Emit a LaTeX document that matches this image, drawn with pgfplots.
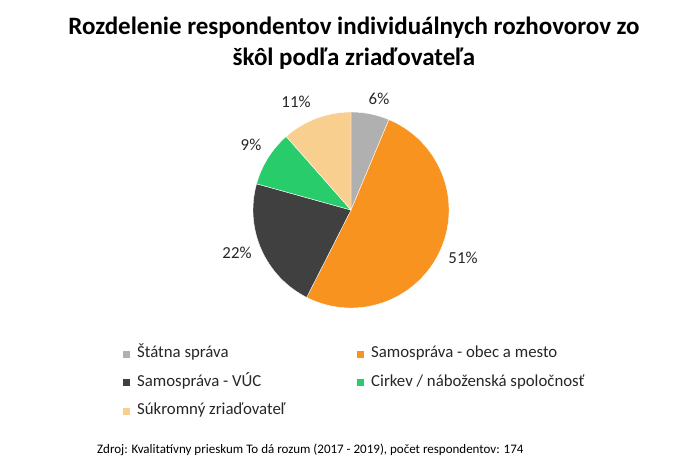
\documentclass[border=0pt]{standalone}
\usepackage{pgfplots}
\pgfplotsset{compat=1.18}
\usepackage{fontspec}
\setmainfont{Carlito}
\definecolor{cgray}{HTML}{B0B0B0}
\definecolor{corange}{HTML}{F7931E}
\definecolor{cdark}{HTML}{404040}
\definecolor{cgreen}{HTML}{28CC6B}
\definecolor{cpeach}{HTML}{F9CF8F}
\begin{document}
\begin{tikzpicture}
\begin{axis}[x=1bp, y=-1bp, xmin=0, xmax=691, ymin=0, ymax=475,
  hide axis, clip=false, anchor=origin, at={(0,0)}]
\path (axis cs:0,0) (axis cs:691,475);
% slices: counts 11, 89, 38, 16, 20 of 174, clockwise from 12 o'clock (2.068966 deg per respondent)
\def\R{98bp}
\def\D{2.068966}
\fill[cgray,draw=white,line width=0.4bp] (axis cs:351,210) -- ++(90:\R) arc[start angle=90, end angle={90-\D*11}, radius=\R] -- cycle;
\fill[corange,draw=white,line width=0.4bp] (axis cs:351,210) -- ++({90-\D*11}:\R) arc[start angle={90-\D*11}, end angle={90-\D*100}, radius=\R] -- cycle;
\fill[cdark,draw=white,line width=0.4bp] (axis cs:351,210) -- ++({90-\D*100}:\R) arc[start angle={90-\D*100}, end angle={90-\D*138}, radius=\R] -- cycle;
\fill[cgreen,draw=white,line width=0.4bp] (axis cs:351,210) -- ++({90-\D*138}:\R) arc[start angle={90-\D*138}, end angle={90-\D*154}, radius=\R] -- cycle;
\fill[cpeach,draw=white,line width=0.4bp] (axis cs:351,210) -- ++({90-\D*154}:\R) arc[start angle={90-\D*154}, end angle={90-\D*174}, radius=\R] -- cycle;
% labels
\tikzset{lab/.style={font=\fontsize{16.8bp}{20bp}\selectfont, text=black!85, inner sep=0pt}}
\node[lab] at (axis cs:379,99) {6\%};
\node[lab] at (axis cs:463,258) {51\%};
\node[lab] at (axis cs:237,253) {22\%};
\node[lab] at (axis cs:251,145) {9\%};
\node[lab] at (axis cs:296,102) {11\%};
% title
\node[font=\bfseries\fontsize{25bp}{30.5bp}\selectfont, align=center, anchor=north, inner sep=0pt] at (axis cs:354,17) {Rozdelenie respondentov individuálnych rozhovorov zo\\škôl podľa zriaďovateľa};
% legend
\tikzset{leg/.style={font=\fontsize{16.8bp}{20bp}\selectfont, text=black!85, anchor=base west, inner sep=0pt}}
\fill[cgray] (axis cs:123,350.5) rectangle (axis cs:130,357.5);
\node[leg] at (axis cs:137,357.5) {Štátna správa};
\fill[corange] (axis cs:357,350.5) rectangle (axis cs:364,357.5);
\node[leg] at (axis cs:371,357.5) {Samospráva - obec a mesto};
\fill[cdark] (axis cs:123,379) rectangle (axis cs:130,386);
\node[leg] at (axis cs:137,386) {Samospráva - VÚC};
\fill[cgreen] (axis cs:357,379) rectangle (axis cs:364,386);
\node[leg] at (axis cs:371,386) {Cirkev / náboženská spoločnosť};
\fill[cpeach] (axis cs:123,407.5) rectangle (axis cs:130,414.5);
\node[leg] at (axis cs:137,414.5) {Súkromný zriaďovateľ};
% source
\node[font=\fontsize{13bp}{15.5bp}\selectfont, anchor=base west, inner sep=0pt] at (axis cs:97,453) {Zdroj: Kvalitatívny prieskum To dá rozum (2017 - 2019), počet respondentov: 174};
\end{axis}
\end{tikzpicture}
\end{document}
